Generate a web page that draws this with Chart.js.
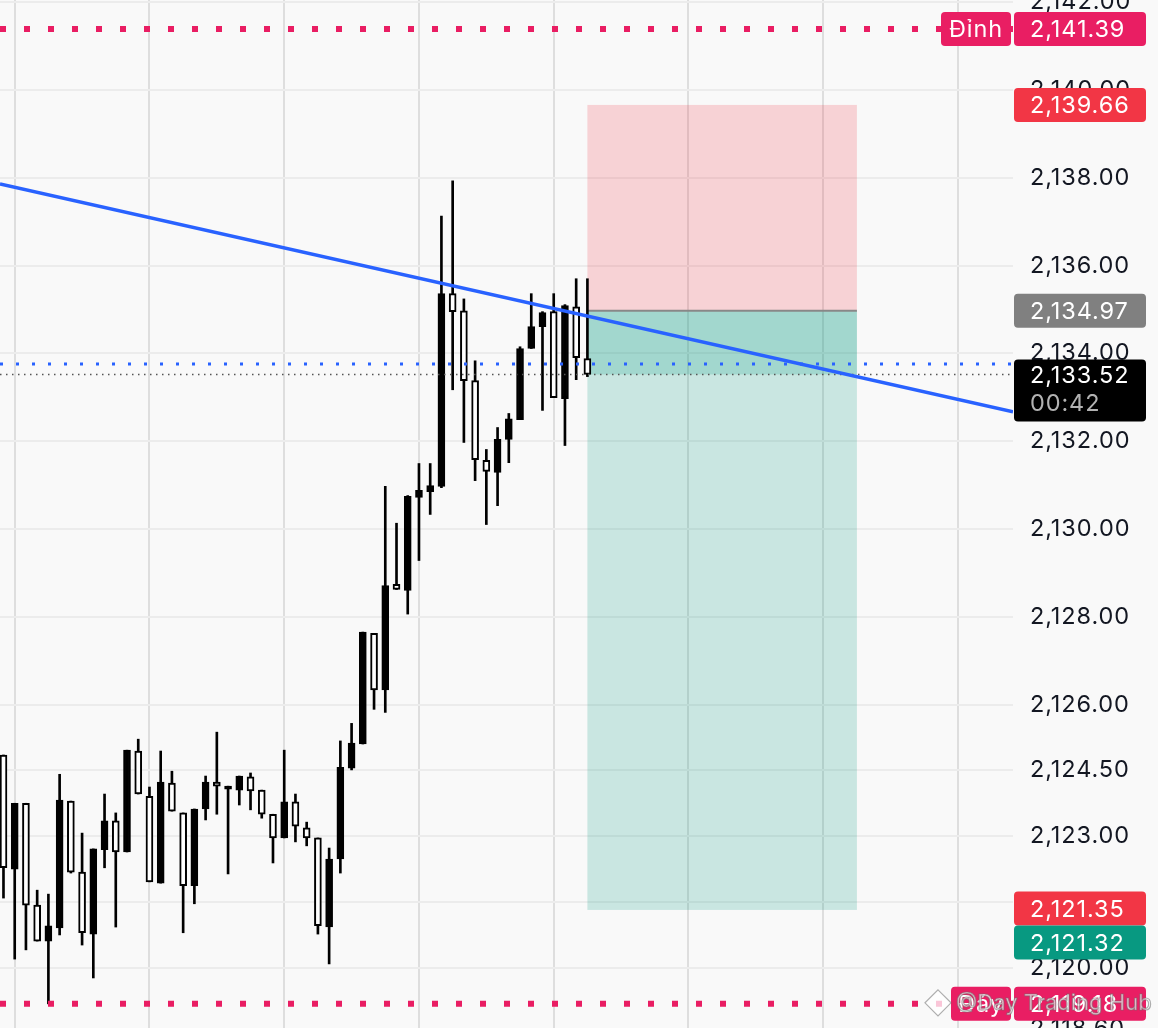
<!DOCTYPE html>
<html><head><meta charset="utf-8">
<script src="https://cdn.jsdelivr.net/npm/chart.js@4.4.1/dist/chart.umd.min.js"></script>
<style>html,body{margin:0;padding:0;background:#f9f9f9;overflow:hidden}canvas{display:block}</style>
</head><body>
<canvas id="c" width="1158" height="1028"></canvas>
<script>
// ---- Data ----
const candleOpen  = [2124.85,2122.25,2123.75,2121.43,2120.61,2120.91,2123.80,2122.18,2120.77,2122.69,2123.35,2122.64,2124.94,2123.91,2121.93,2124.21,2123.53,2121.87,2123.62,2124.23,2124.07,2124.05,2124.35,2124.05,2123.50,2122.96,2123.78,2123.19,2122.96,2120.93,2122.48,2124.55,2125.10,2127.62,2126.33,2128.74,2128.60,2130.72,2130.85,2130.97,2135.36,2134.97,2133.38,2131.56,2131.29,2132.04,2132.49,2134.11,2134.61,2134.95,2132.97,2135.06,2133.88];
const candleHigh  = [2124.85,2123.75,2123.75,2121.77,2121.68,2124.41,2123.80,2123.07,2122.71,2123.96,2123.53,2124.96,2125.21,2124.12,2124.94,2124.48,2123.53,2123.62,2124.37,2125.37,2124.14,2124.37,2124.44,2124.05,2123.50,2124.96,2123.96,2123.32,2122.96,2122.73,2125.17,2125.57,2127.65,2127.62,2130.97,2130.13,2130.76,2131.49,2131.49,2137.13,2137.93,2135.24,2133.83,2131.81,2132.31,2132.63,2134.15,2135.36,2134.95,2135.36,2135.11,2135.70,2135.70];
const candleLow   = [2121.59,2120.20,2120.41,2120.61,2119.18,2120.75,2122.16,2120.52,2119.77,2122.28,2120.93,2122.64,2123.96,2121.96,2121.93,2123.57,2120.80,2121.46,2123.37,2123.50,2122.14,2123.71,2123.60,2123.41,2122.39,2122.96,2122.87,2122.78,2120.77,2120.09,2122.16,2124.51,2125.10,2125.89,2125.82,2128.62,2128.06,2129.28,2130.33,2130.94,2133.17,2131.97,2131.10,2130.10,2130.53,2131.51,2132.49,2134.11,2132.70,2132.99,2131.90,2133.40,2133.47];
const candleClose = [2122.28,2123.75,2121.43,2120.61,2120.96,2123.82,2122.18,2120.80,2122.71,2123.35,2122.64,2124.96,2123.96,2121.96,2124.23,2123.57,2121.87,2123.62,2124.23,2124.14,2124.14,2124.37,2124.03,2123.50,2122.96,2123.78,2123.23,2122.96,2120.96,2122.48,2124.57,2125.12,2127.65,2126.33,2128.71,2128.62,2130.74,2130.88,2130.99,2135.36,2134.95,2133.38,2131.58,2131.31,2132.04,2132.51,2134.11,2134.61,2134.93,2132.99,2135.09,2133.90,2133.52];

const yTickValues   = [2118.60,2120.00,2121.50,2123.00,2124.50,2126.00,2128.00,2130.00,2132.00,2134.00,2136.00,2138.00,2140.00,2142.00];
const xGridIndices  = [1,13,25,37,49,61,73,85];
const xRange        = [-0.31, 89.9];
const yRange        = [2118.63, 2142.05];
const trendLineX    = [-0.31, 89.9];
const trendLineY    = [2137.86, 2132.67];
const topLevel      = 2141.39;   // Đỉnh
const bottomLevel   = 2119.18;   // Đáy
const alertLevel    = 2133.76;
const lastPrice     = 2133.52;
const countdown     = "00:42";
const positionX     = [52, 76];
const stopPrice     = 2139.66;
const entryPrice    = 2134.97;
const targetPrice   = 2121.32;
const alertLow      = 2121.35;
const topLabel      = "Đỉnh";
const bottomLabel   = "Đáy";
const watermark     = "@Day Trading Hub";

// ---- Helpers ----
const fmt = v => Number(v).toLocaleString('en-US',{minimumFractionDigits:2, maximumFractionDigits:2});
const idx = candleOpen.map((_, i) => i);
const bull = idx.map(i => candleClose[i] >= candleOpen[i]);
const hLine = (y) => [{x: xRange[0], y}, {x: xRange[1], y}];
const FONT = 'Inter, "Noto Sans", sans-serif';

const overlay = {
  id: 'overlay',
  beforeDraw(chart) {
    const c = chart.ctx;
    c.save(); c.fillStyle = '#f9f9f9'; c.fillRect(0, 0, chart.width, chart.height); c.restore();
    c.letterSpacing = '0.9px';
  },
  beforeDatasetsDraw(chart) {
    const c = chart.ctx, xs = chart.scales.x, ys = chart.scales.y;
    const x0 = xs.getPixelForValue(positionX[0]), x1 = xs.getPixelForValue(positionX[1]);
    const yS = ys.getPixelForValue(stopPrice), yE = ys.getPixelForValue(entryPrice);
    const yT = ys.getPixelForValue(targetPrice), yL = ys.getPixelForValue(lastPrice);
    c.save();
    c.fillStyle = 'rgba(242,54,69,0.2)'; c.fillRect(x0, yS, x1 - x0, yE - yS);
    c.fillStyle = 'rgba(8,153,129,0.2)'; c.fillRect(x0, yE, x1 - x0, yT - yE);
    c.fillStyle = 'rgba(8,153,129,0.2)'; c.fillRect(x0, yE, x1 - x0, yL - yE);
    c.strokeStyle = '#888888'; c.lineWidth = 2;
    c.beginPath(); c.moveTo(x0, yE); c.lineTo(x1, yE); c.stroke();
    c.restore();
  },
  afterDraw(chart) {
    const c = chart.ctx, ys = chart.scales.y, ca = chart.chartArea;
    const bx = ca.right + 1, bw = 132, tx = ca.right + 17;
    const rr = (x, y, w, h, r, col) => { c.fillStyle = col; c.beginPath(); c.roundRect(x, y, w, h, r); c.fill(); };
    c.save();
    c.font = '23.5px ' + FONT; c.textBaseline = 'middle'; c.textAlign = 'left';
    const tag = (cy, text, bg, h = 34) => {
      rr(bx, cy - h / 2, bw, h, 4, bg);
      c.fillStyle = '#ffffff'; c.fillText(text, tx, cy + 1);
    };
    const side = (cy, text, bg, w) => {
      rr(ca.right - 2 - w, cy - 17, w, 34, 4, bg);
      c.fillStyle = '#ffffff'; c.textAlign = 'center'; c.fillText(text, ca.right - 2 - w / 2, cy + 1); c.textAlign = 'left';
    };
    const yTop = ys.getPixelForValue(topLevel);
    side(yTop, topLabel, '#e91e63', 70); tag(yTop, fmt(topLevel), '#e91e63');
    tag(ys.getPixelForValue(stopPrice), fmt(stopPrice), '#f23645');
    tag(ys.getPixelForValue(entryPrice), fmt(entryPrice), '#808080');
    const yl = ys.getPixelForValue(lastPrice);
    rr(bx, yl - 15, bw, 62, 4, '#000000');
    c.fillStyle = '#ffffff'; c.fillText(fmt(lastPrice), tx, yl + 2);
    c.fillStyle = '#b2b2b2'; c.fillText(countdown, tx, yl + 30);
    const ya = ys.getPixelForValue(alertLow);
    tag(ya, fmt(alertLow), '#f23645');
    tag(ya + 34, fmt(targetPrice), '#089981');
    const yb = ys.getPixelForValue(bottomLevel);
    side(yb, bottomLabel, '#e91e63', 60); tag(yb, fmt(bottomLevel), '#e91e63');
    // watermark
    const wx = 926, wy = yb - 1;
    c.strokeStyle = 'rgba(110,110,110,0.55)'; c.lineWidth = 1.2; c.fillStyle = 'rgba(255,255,255,0.75)';
    c.beginPath(); c.moveTo(wx + 12, wy - 13); c.lineTo(wx + 25, wy); c.lineTo(wx + 12, wy + 13); c.lineTo(wx - 1, wy); c.closePath(); c.fill(); c.stroke();
    c.letterSpacing = '0px';
    c.font = '22px ' + FONT;
    c.fillText(watermark, wx + 30, wy + 1); c.strokeText(watermark, wx + 30, wy + 1);
    c.restore();
  }
};

new Chart(document.getElementById('c'), {
  data: {
    datasets: [
      { type: 'bar', label: 'body', data: idx.map(i => ({x: i, y: [candleOpen[i], candleClose[i]]})),
        backgroundColor: idx.map(i => bull[i] ? '#000000' : '#ffffff'), borderColor: '#000000', borderWidth: 2,
        borderSkipped: false, barThickness: 7, grouped: false, minBarLength: 2, order: 2 },
      { type: 'bar', label: 'wick', data: idx.map(i => ({x: i, y: [candleLow[i], candleHigh[i]]})),
        backgroundColor: '#000000', borderWidth: 0, barThickness: 2, grouped: false, order: 3 },
      { type: 'line', label: 'trend', data: [{x: trendLineX[0], y: trendLineY[0]}, {x: trendLineX[1], y: trendLineY[1]}],
        borderColor: '#2962ff', borderWidth: 3.5, pointRadius: 0, order: 0 },
      { type: 'line', label: 'top', data: hLine(topLevel), borderColor: '#e91e63', borderWidth: 6, borderDash: [6, 18], borderCapStyle: 'butt', pointRadius: 0, order: 1 },
      { type: 'line', label: 'bottom', data: hLine(bottomLevel), borderColor: '#e91e63', borderWidth: 6, borderDash: [6, 18], borderCapStyle: 'butt', pointRadius: 0, order: 1 },
      { type: 'line', label: 'alert', data: hLine(alertLevel), borderColor: '#2962ff', borderWidth: 3, borderDash: [3, 13], borderCapStyle: 'butt', pointRadius: 0, order: 1 },
      { type: 'line', label: 'last', data: hLine(lastPrice), borderColor: '#555555', borderWidth: 1.5, borderDash: [1.5, 4.5], borderCapStyle: 'butt', pointRadius: 0, order: 1 }
    ]
  },
  options: {
    responsive: false, animation: false,
    layout: { padding: 0 },
    plugins: { legend: { display: false }, tooltip: { enabled: false } },
    scales: {
      x: { type: 'linear', min: xRange[0], max: xRange[1], offset: false,
           grid: { color: '#dedede', lineWidth: 2, drawTicks: false, offset: false }, border: { display: false },
           ticks: { display: false },
           afterBuildTicks: s => { s.ticks = xGridIndices.map(v => ({value: v})); },
           afterFit: s => { s.height = 0; s.paddingLeft = 0; s.paddingRight = 0; } },
      y: { type: 'linear', position: 'right', min: yRange[0], max: yRange[1],
           grid: { color: '#ececec', lineWidth: 2, drawTicks: false }, border: { display: false },
           ticks: { padding: 17, color: '#131722', autoSkip: false, font: { family: FONT, size: 23.5 }, callback: v => fmt(v) },
           afterBuildTicks: s => { s.ticks = yTickValues.map(v => ({value: v})); },
           afterFit: s => { s.width = 145; s.paddingTop = 0; s.paddingBottom = 0; } }
    }
  },
  plugins: [overlay]
});
</script>
</body></html>
